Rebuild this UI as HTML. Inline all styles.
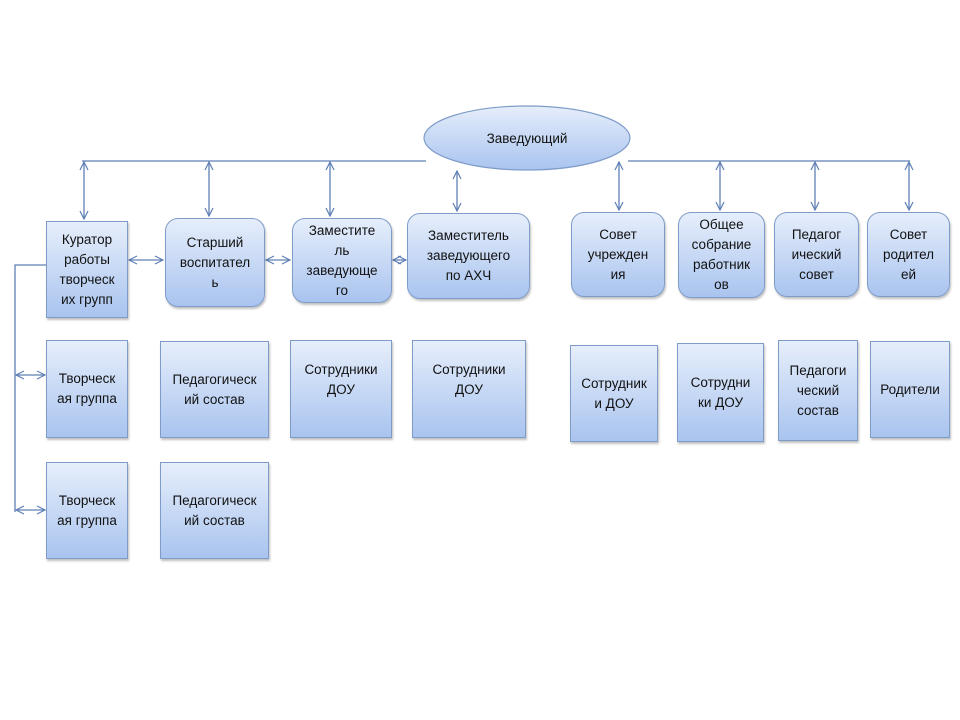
<!DOCTYPE html>
<html><head><meta charset="utf-8"><style>
body{margin:0;width:960px;height:720px;background:#fff;position:relative;overflow:hidden;font-family:"Liberation Sans",sans-serif}
.b{position:absolute;box-sizing:border-box;border:1px solid #7f9cc9;background:linear-gradient(#e6eefb,#a9c4ef);display:flex;align-items:center;justify-content:center;text-align:center;font-size:13.5px;line-height:20px;color:#111;box-shadow:1px 2px 2px rgba(0,0,0,.25)}
.r{border-radius:13px}
svg{position:absolute;left:0;top:0}
</style></head><body>
<svg width="960" height="720">
<defs><marker id="a" markerWidth="10" markerHeight="10" refX="9" refY="5" orient="auto-start-reverse" markerUnits="userSpaceOnUse"><path d="M1,1 L9,5 L1,9" fill="none" stroke="#5f7fb5" stroke-width="1.2"/></marker></defs>
<g stroke="#5f7fb5" stroke-width="1.3" fill="none">
<path d="M82,161 H426 M628,161 H910"/>
<line x1="84" y1="162" x2="84" y2="219" marker-start="url(#a)" marker-end="url(#a)"/>
<line x1="209" y1="162" x2="209" y2="216" marker-start="url(#a)" marker-end="url(#a)"/>
<line x1="330" y1="162" x2="330" y2="216" marker-start="url(#a)" marker-end="url(#a)"/>
<line x1="457" y1="171" x2="457" y2="211" marker-start="url(#a)" marker-end="url(#a)"/>
<line x1="619" y1="162" x2="619" y2="210" marker-start="url(#a)" marker-end="url(#a)"/>
<line x1="720" y1="162" x2="720" y2="210" marker-start="url(#a)" marker-end="url(#a)"/>
<line x1="815" y1="162" x2="815" y2="210" marker-start="url(#a)" marker-end="url(#a)"/>
<line x1="909" y1="162" x2="909" y2="210" marker-start="url(#a)" marker-end="url(#a)"/>
<line x1="129" y1="260" x2="163" y2="260" marker-start="url(#a)" marker-end="url(#a)"/>
<line x1="266" y1="260" x2="290" y2="260" marker-start="url(#a)" marker-end="url(#a)"/>
<line x1="393" y1="260" x2="406" y2="260" marker-start="url(#a)" marker-end="url(#a)"/>
<path d="M46,265 H15 V512"/>
<line x1="16" y1="375" x2="45" y2="375" marker-start="url(#a)" marker-end="url(#a)"/>
<line x1="16" y1="510" x2="45" y2="510" marker-start="url(#a)" marker-end="url(#a)"/>
</g>
<defs><linearGradient id="g" x1="0" y1="0" x2="0" y2="1"><stop offset="0" stop-color="#e6eefb"/><stop offset="1" stop-color="#a9c4ef"/></linearGradient></defs>
<ellipse cx="527" cy="138" rx="103" ry="32" fill="url(#g)" stroke="#7f9cc9" stroke-width="1.2"/>
<text x="527" y="143" text-anchor="middle" font-family="Liberation Sans, sans-serif" font-size="13.5" fill="#111">Заведующий</text>
</svg>
<div class="b" style="left:46px;top:221px;width:82px;height:97px">Куратор<br>работы<br>творческ<br>их групп</div>
<div class="b r" style="left:165px;top:218px;width:100px;height:89px">Старший<br>воспитател<br>ь</div>
<div class="b r" style="left:292px;top:218px;width:100px;height:85px">Заместите<br>ль<br>заведующе<br>го</div>
<div class="b r" style="left:407px;top:213px;width:123px;height:86px">Заместитель<br>заведующего<br>по АХЧ</div>
<div class="b r" style="left:571px;top:212px;width:94px;height:85px">Совет<br>учрежден<br>ия</div>
<div class="b r" style="left:678px;top:212px;width:87px;height:86px">Общее<br>собрание<br>работник<br>ов</div>
<div class="b r" style="left:774px;top:212px;width:85px;height:85px">Педагог<br>ический<br>совет</div>
<div class="b r" style="left:867px;top:212px;width:83px;height:85px">Совет<br>родител<br>ей</div>

<div class="b" style="left:46px;top:340px;width:82px;height:98px">Творческ<br>ая группа</div>
<div class="b" style="left:160px;top:341px;width:109px;height:97px">Педагогическ<br>ий состав</div>
<div class="b" style="left:290px;top:340px;width:102px;height:98px;padding-bottom:18px">Сотрудники<br>ДОУ</div>
<div class="b" style="left:412px;top:340px;width:114px;height:98px;padding-bottom:18px">Сотрудники<br>ДОУ</div>
<div class="b" style="left:570px;top:345px;width:88px;height:97px">Сотрудник<br>и ДОУ</div>
<div class="b" style="left:677px;top:343px;width:87px;height:99px">Сотрудни<br>ки ДОУ</div>
<div class="b" style="left:778px;top:340px;width:80px;height:101px">Педагоги<br>ческий<br>состав</div>
<div class="b" style="left:870px;top:341px;width:80px;height:97px">Родители</div>

<div class="b" style="left:46px;top:462px;width:82px;height:97px">Творческ<br>ая группа</div>
<div class="b" style="left:160px;top:462px;width:109px;height:97px">Педагогическ<br>ий состав</div>
</body></html>
